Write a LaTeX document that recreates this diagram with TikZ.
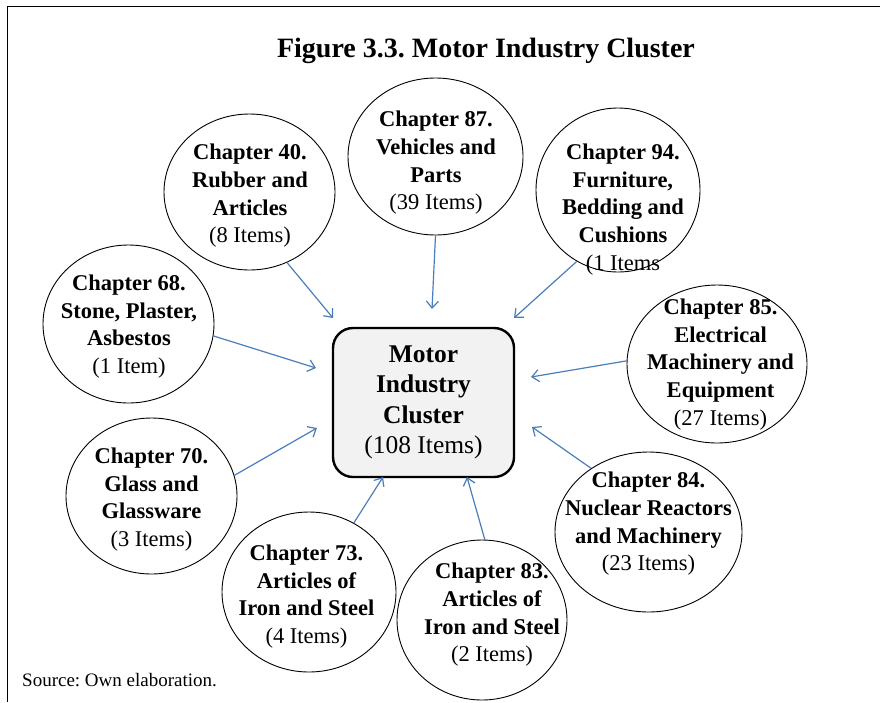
\documentclass[tikz,border=0pt]{standalone}
\usepackage{fontspec}
\setmainfont{Liberation Serif}
\usetikzlibrary{shapes.geometric,arrows.meta}
\definecolor{arrowblue}{RGB}{74,126,187}
\definecolor{boxgray}{RGB}{242,242,242}
\frenchspacing
\begin{document}
\begin{tikzpicture}[x=1pt,y=-1pt,
  chap/.style={draw=black,line width=0.9pt,ellipse,inner sep=0pt},
  chaptext/.style={align=center,font=\fontsize{22.5}{27.7}\selectfont\bfseries,inner sep=0pt},
  link/.style={draw=arrowblue,line width=1.2pt,-{Straight Barb[length=7pt,width=12pt]}},
]
\useasboundingbox (0,0) rectangle (880,702);
\fill[white] (0,0) rectangle (880,702);
\draw[line width=1.6pt] (7.5,702) -- (7.5,6.5) -- (880,6.5);

\node[font=\fontsize{28}{34}\selectfont\bfseries, anchor=base] (title) at (486,57) {Figure 3.3. Motor Industry Cluster};
\node[font=\fontsize{19}{23}\selectfont, anchor=base west, inner sep=0pt] (src) at (22,686) {Source: Own elaboration.};

% central box
\node[draw, line width=2.4pt, fill=boxgray, rounded corners=20pt, minimum width=181pt, minimum height=149pt, align=center, inner sep=0pt, font=\fontsize{25.5}{30.3}\selectfont\bfseries] (box) at (423.5,402.5) {Motor\\Industry\\Cluster\\\mdseries(108 Items)};

% ellipses
\node[chap, minimum width=171pt, minimum height=156pt] (c40) at (249.5,192) {};
\node[chap, minimum width=175pt, minimum height=157pt] (c87) at (435.5,156.5) {};
\node[chap, minimum width=164pt, minimum height=164pt] (c94) at (618,190) {};
\node[chap, minimum width=171pt, minimum height=158pt] (c68) at (128.5,324) {};
\node[chap, minimum width=180pt, minimum height=158pt] (c85) at (717,364) {};
\node[chap, minimum width=171pt, minimum height=156pt] (c70) at (151.5,496) {};
\node[chap, minimum width=187pt, minimum height=160pt] (c84) at (648.5,532) {};
\node[chap, minimum width=174pt, minimum height=160pt] (c73) at (309,592) {};
\node[chap, minimum width=170pt, minimum height=160pt] (c83) at (482,620) {};

% texts
\node[chaptext] (t40) at (250,196) {Chapter 40.\\Rubber and\\Articles\\\mdseries(8 Items)};
\node[chaptext] (t87) at (436,163) {Chapter 87.\\Vehicles and\\Parts\\\mdseries(39 Items)};
\node[chaptext] (t94) at (623,209.5) {Chapter 94.\\Furniture,\\Bedding and\\Cushions\\\mdseries(1 Items};
\node[chaptext] (t68) at (129,326.5) {Chapter 68.\\Stone, Plaster,\\Asbestos\\\mdseries(1 Item)};
\node[chaptext] (t85) at (720.5,364.5) {Chapter 85.\\Electrical\\Machinery and\\Equipment\\\mdseries(27 Items)};
\node[chaptext] (t70) at (151.5,499.5) {Chapter 70.\\Glass and\\Glassware\\\mdseries(3 Items)};
\node[chaptext] (t84) at (648.5,524) {Chapter 84.\\Nuclear Reactors\\and Machinery\\\mdseries(23 Items)};
\node[chaptext] (t73) at (306.5,596.5) {Chapter 73.\\Articles of\\Iron and Steel\\\mdseries(4 Items)};
\node[chaptext] (t83) at (492,615) {Chapter 83.\\Articles of\\Iron and Steel\\\mdseries(2 Items)};

% arrow tips
\coordinate (a40) at (333,318);
\coordinate (a87) at (432,309);
\coordinate (a94) at (514,318);
\coordinate (a68) at (316,368);
\coordinate (a85) at (531,377);
\coordinate (a70) at (317,428);
\coordinate (a84) at (532,427);
\coordinate (a73) at (383,477);
\coordinate (a83) at (467,477);

\draw[link] (c40.-62.2) -- (a40);
\draw[link] (c87.-90.4) -- (a87);
\draw[link] (c94.-120.8) -- (a94);
\draw[link] (c68.-8.6) -- (a68);
\draw[link] (c85.178) -- (a85);
\draw[link] (c70.14.3) -- (a70);
\draw[link] (c84.132.6) -- (a84);
\draw[link] (c73.57.9) -- (a73);
\draw[link] (c83.88.7) -- (a83);
\end{tikzpicture}
\end{document}
